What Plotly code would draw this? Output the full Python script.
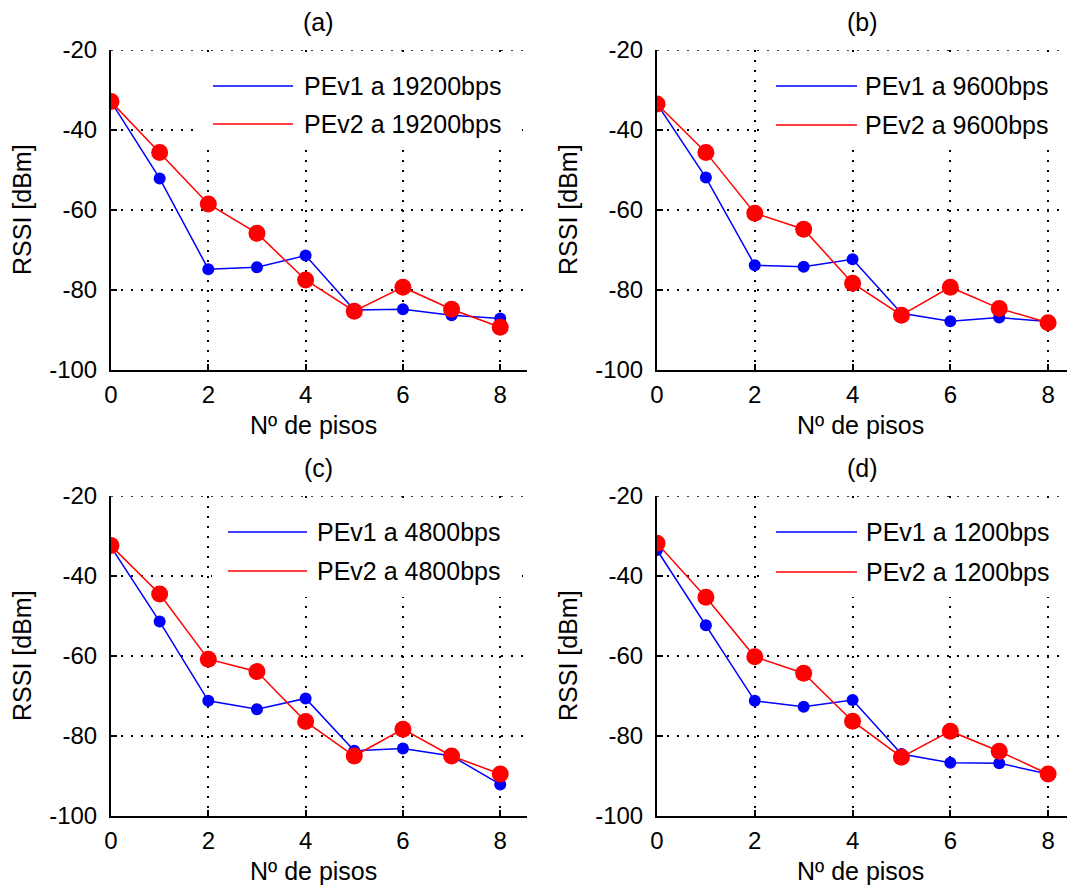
import plotly.graph_objects as go

# ---------------- data ----------------
pisos = [0, 1, 2, 3, 4, 5, 6, 7, 8]

pev1_19200 = [-32.9, -52.1, -74.8, -74.3, -71.4, -85.0, -84.8, -86.3, -87.1]
pev2_19200 = [-32.9, -45.6, -58.5, -65.8, -77.5, -85.3, -79.3, -84.8, -89.3]

pev1_9600 = [-33.5, -51.9, -73.8, -74.2, -72.3, -85.8, -87.8, -86.9, -87.9]
pev2_9600 = [-33.5, -45.6, -60.8, -64.8, -78.3, -86.3, -79.3, -84.6, -88.2]

pev1_4800 = [-32.7, -51.4, -71.2, -73.3, -70.6, -83.7, -83.1, -85.0, -92.1]
pev2_4800 = [-32.4, -44.5, -60.8, -63.9, -76.4, -85.0, -78.3, -85.0, -89.5]

pev1_1200 = [-33.5, -52.3, -71.2, -72.7, -71.0, -84.5, -86.7, -86.8, -89.5]
pev2_1200 = [-31.8, -45.3, -60.2, -64.3, -76.3, -85.3, -78.8, -83.8, -89.5]

panel_titles = ["(a)", "(b)", "(c)", "(d)"]
rates = ["19200bps", "9600bps", "4800bps", "1200bps"]
x_ticks = [0, 2, 4, 6, 8]
x_tick_labels = ["0", "2", "4", "6", "8"]
y_ticks = [-100, -80, -60, -40, -20]
y_tick_labels = ["-100", "-80", "-60", "-40", "-20"]
y_label = "RSSI [dBm]"
x_label = "Nº de pisos"

series = [
    (pev1_19200, pev2_19200),
    (pev1_9600, pev2_9600),
    (pev1_4800, pev2_4800),
    (pev1_1200, pev2_1200),
]

# ---------------- layout helpers ----------------
OFF = 8                      # page body margin of the html page
W, H = 1075 - OFF, 890 - OFF  # figure size so the page fits the window
FONT = "Liberation Sans, Arial, sans-serif"
BLUE = "#0000FF"
RED = "#FF0000"
GRID_DASH = "2px,8px"


def px(x):
    return (x - OFF) / W


def py(y):
    return 1 - (y - OFF) / H


# panel geometry in screen pixels: (left, right, top, bottom)
axes_px = [(111, 527, 50, 370), (657, 1075, 50, 370),
           (111, 527, 496, 816), (657, 1075, 496, 816)]
# legend geometry: box (l, t, r, b), line x0, x1, text x, y blue, y red
legend_px = [
    ((197, 60, 522, 150), 213, 293, 302, 86, 124),
    ((760, 60, 1062, 150), 776, 857, 863, 86, 125),
    ((212, 505, 522, 597), 228, 307, 315, 532, 571),
    ((760, 505, 1062, 597), 776, 857, 864, 532, 572),
]
title_px = [(318, 22), (862, 22), (318, 468), (862, 468)]
ylab_px = [(22, 210), (568, 210), (22, 656), (568, 656)]
xlab_px = [(313, 425), (860, 425), (313, 871), (860, 871)]

fig = go.Figure()
shapes = []
annotations = []

for i in range(4):
    sfx = "" if i == 0 else str(i + 1)
    xa, ya = "x" + sfx, "y" + sfx
    l, r, t, b = axes_px[i]
    blue_vals, red_vals = series[i]

    fig.add_trace(go.Scatter(
        x=pisos, y=blue_vals, mode="lines+markers", xaxis=xa, yaxis=ya,
        line=dict(color=BLUE, width=1.5),
        marker=dict(color=BLUE, size=12, symbol="circle"),
        showlegend=False))
    fig.add_trace(go.Scatter(
        x=pisos, y=red_vals, mode="lines+markers", xaxis=xa, yaxis=ya,
        line=dict(color=RED, width=1.5),
        marker=dict(color=RED, size=17, symbol="circle"),
        showlegend=False))

    axis_common = dict(
        showline=True, linecolor="black", linewidth=2,
        ticks="inside", ticklen=6, tickcolor="black", tickwidth=1.5,
        showgrid=True, gridcolor="black", gridwidth=1.5, griddash=GRID_DASH,
        zeroline=False, mirror=False, automargin=False,
        tickfont=dict(family=FONT, size=24, color="black"),
    )
    fig.layout["xaxis" + sfx] = dict(
        axis_common, domain=[px(l), min(px(r), 1.0)],
        range=[0, 8.55 * (min(px(r), 1.0) - px(l)) / (px(r) - px(l))],
        tickvals=x_ticks, ticktext=x_tick_labels, anchor=ya,
        ticklabelstandoff=2)
    fig.layout["yaxis" + sfx] = dict(
        axis_common, domain=[py(b), py(t)], range=[-100, -20],
        tickvals=y_ticks, ticktext=y_tick_labels, anchor=xa,
        ticklabelstandoff=7)

    # top grid line at the last y tick (plotly drops it at the range edge)
    shapes.append(dict(type="line", xref=f"{xa} domain", yref=ya,
                       x0=0, x1=1, y0=y_ticks[-1], y1=y_ticks[-1],
                       line=dict(color="black", width=1.5, dash=GRID_DASH),
                       layer="below"))

    # legend (MATLAB style: white box, long line samples)
    (bl, bt, br, bb), lx0, lx1, tx, yb, yr = legend_px[i]
    shapes.append(dict(type="rect", xref="paper", yref="paper",
                       x0=px(bl), x1=px(br), y0=py(bb), y1=py(bt),
                       fillcolor="white", line=dict(width=0), layer="above"))
    for yy, col, name in [(yb, BLUE, "PEv1"), (yr, RED, "PEv2")]:
        shapes.append(dict(type="line", xref="paper", yref="paper",
                           x0=px(lx0), x1=px(lx1), y0=py(yy), y1=py(yy),
                           line=dict(color=col, width=1.5), layer="above"))
        annotations.append(dict(
            xref="paper", yref="paper", x=px(tx), y=py(yy),
            xanchor="left", yanchor="middle", showarrow=False,
            text=f"{name} a {rates[i]}",
            font=dict(family=FONT, size=25, color="black")))

    # titles and axis labels
    annotations.append(dict(xref="paper", yref="paper",
                            x=px(title_px[i][0]), y=py(title_px[i][1]),
                            xanchor="center", yanchor="middle", showarrow=False,
                            text=panel_titles[i],
                            font=dict(family=FONT, size=25, color="black")))
    annotations.append(dict(xref="paper", yref="paper",
                            x=px(ylab_px[i][0]), y=py(ylab_px[i][1]),
                            xanchor="center", yanchor="middle", showarrow=False,
                            textangle=-90, text=y_label,
                            font=dict(family=FONT, size=25, color="black")))
    annotations.append(dict(xref="paper", yref="paper",
                            x=px(xlab_px[i][0]), y=py(xlab_px[i][1]),
                            xanchor="center", yanchor="middle", showarrow=False,
                            text=x_label,
                            font=dict(family=FONT, size=25, color="black")))

fig.update_layout(
    width=W, height=H,
    margin=dict(l=0, r=0, t=0, b=0, pad=0, autoexpand=False),
    paper_bgcolor="white", plot_bgcolor="white",
    shapes=shapes, annotations=annotations,
    showlegend=False,
    font=dict(family=FONT, color="black"),
)

fig.write_html("out.html")
